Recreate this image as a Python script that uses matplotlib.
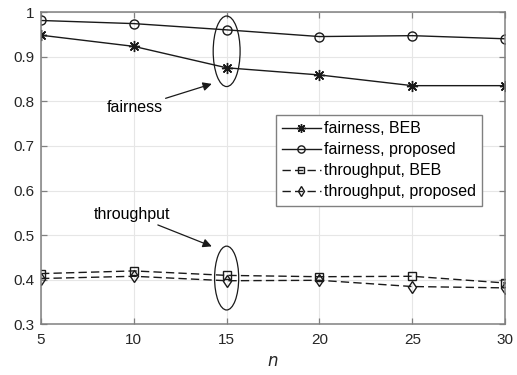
import matplotlib
matplotlib.use("Agg")
import matplotlib.pyplot as plt
from matplotlib.patches import Ellipse

plt.rcParams['font.family'] = ['Liberation Sans', 'DejaVu Sans']

n = [5, 10, 15, 20, 25, 30]
fair_beb = [0.948, 0.923, 0.875, 0.859, 0.835, 0.835]
fair_prop = [0.981, 0.974, 0.960, 0.945, 0.947, 0.940]
thr_beb = [0.414, 0.420, 0.410, 0.407, 0.408, 0.393]
thr_prop = [0.403, 0.408, 0.398, 0.399, 0.385, 0.382]
xticks = [5, 10, 15, 20, 25, 30]
yticks = [0.3, 0.4, 0.5, 0.6, 0.7, 0.8, 0.9, 1.0]
yticklabels = ['0.3', '0.4', '0.5', '0.6', '0.7', '0.8', '0.9', '1']

fig = plt.figure(figsize=(5.17, 3.75), dpi=100)
ax = fig.add_axes([0.0793, 0.1347, 0.8977, 0.8333])

lc = '#1a1a1a'
ast = (8, 2, 0)
ax.plot(n, fair_beb, '-', color=lc, lw=1.0, marker=ast, ms=8, mfc='none', mec=lc, mew=1.0, label='fairness, BEB')
ax.plot(n, fair_prop, '-', color=lc, lw=1.0, marker='o', ms=6.5, mfc='none', mec=lc, mew=1.0, label='fairness, proposed')
ax.plot(n, thr_beb, '--', color=lc, lw=1.0, marker='s', ms=5.5, mfc='none', mec=lc, mew=1.0, label='throughput, BEB', dashes=(6, 3))
ax.plot(n, thr_prop, '--', color=lc, lw=1.0, marker='d', ms=6.5, mfc='none', mec=lc, mew=1.0, label='throughput, proposed', dashes=(6, 3))

ax.set_xlim(5, 30)
ax.set_ylim(0.3, 1.0)
ax.set_xticks(xticks)
ax.set_yticks(yticks)
ax.set_yticklabels(yticklabels)
ax.grid(True, color='#e6e6e6', lw=0.8)
ax.set_axisbelow(True)
ax.tick_params(direction='in', length=4, width=0.9, colors='#808080', labelsize=11, labelcolor='#262626',
               top=True, right=True, labeltop=False, labelright=False)
ax.tick_params(axis='x', pad=6)
ax.tick_params(axis='y', pad=5)
for s in ax.spines.values():
    s.set_color('#808080')
    s.set_linewidth(1.1)
ax.set_xlabel('$n$', fontsize=12, color='#262626', labelpad=5)

ax.add_patch(Ellipse((15, 0.912), 1.45, 0.158, fill=False, ec=lc, lw=0.9))
ax.add_patch(Ellipse((15, 0.404), 1.3, 0.143, fill=False, ec=lc, lw=0.9))

ax.annotate('fairness', xy=(14.2, 0.839), xytext=(10.05, 0.785), fontsize=11.5, ha='center', va='center',
            arrowprops=dict(arrowstyle='-|>', color=lc, lw=0.9, shrinkA=0, shrinkB=0, mutation_scale=13))
ax.annotate('throughput', xy=(14.2, 0.475), xytext=(9.9, 0.546), fontsize=11.5, ha='center', va='center',
            arrowprops=dict(arrowstyle='-|>', color=lc, lw=0.9, shrinkA=0, shrinkB=0, mutation_scale=13))

leg = ax.legend(loc='upper left', bbox_to_anchor=(0.506, 0.671), fontsize=11.5, frameon=True, fancybox=False,
                edgecolor='#808080', framealpha=1, handlelength=2.4, handletextpad=0.2, borderpad=0.4, labelspacing=0.38,
                borderaxespad=0, markerscale=0.8)
leg.get_frame().set_linewidth(1.0)

fig.savefig('out.png', dpi=100)
